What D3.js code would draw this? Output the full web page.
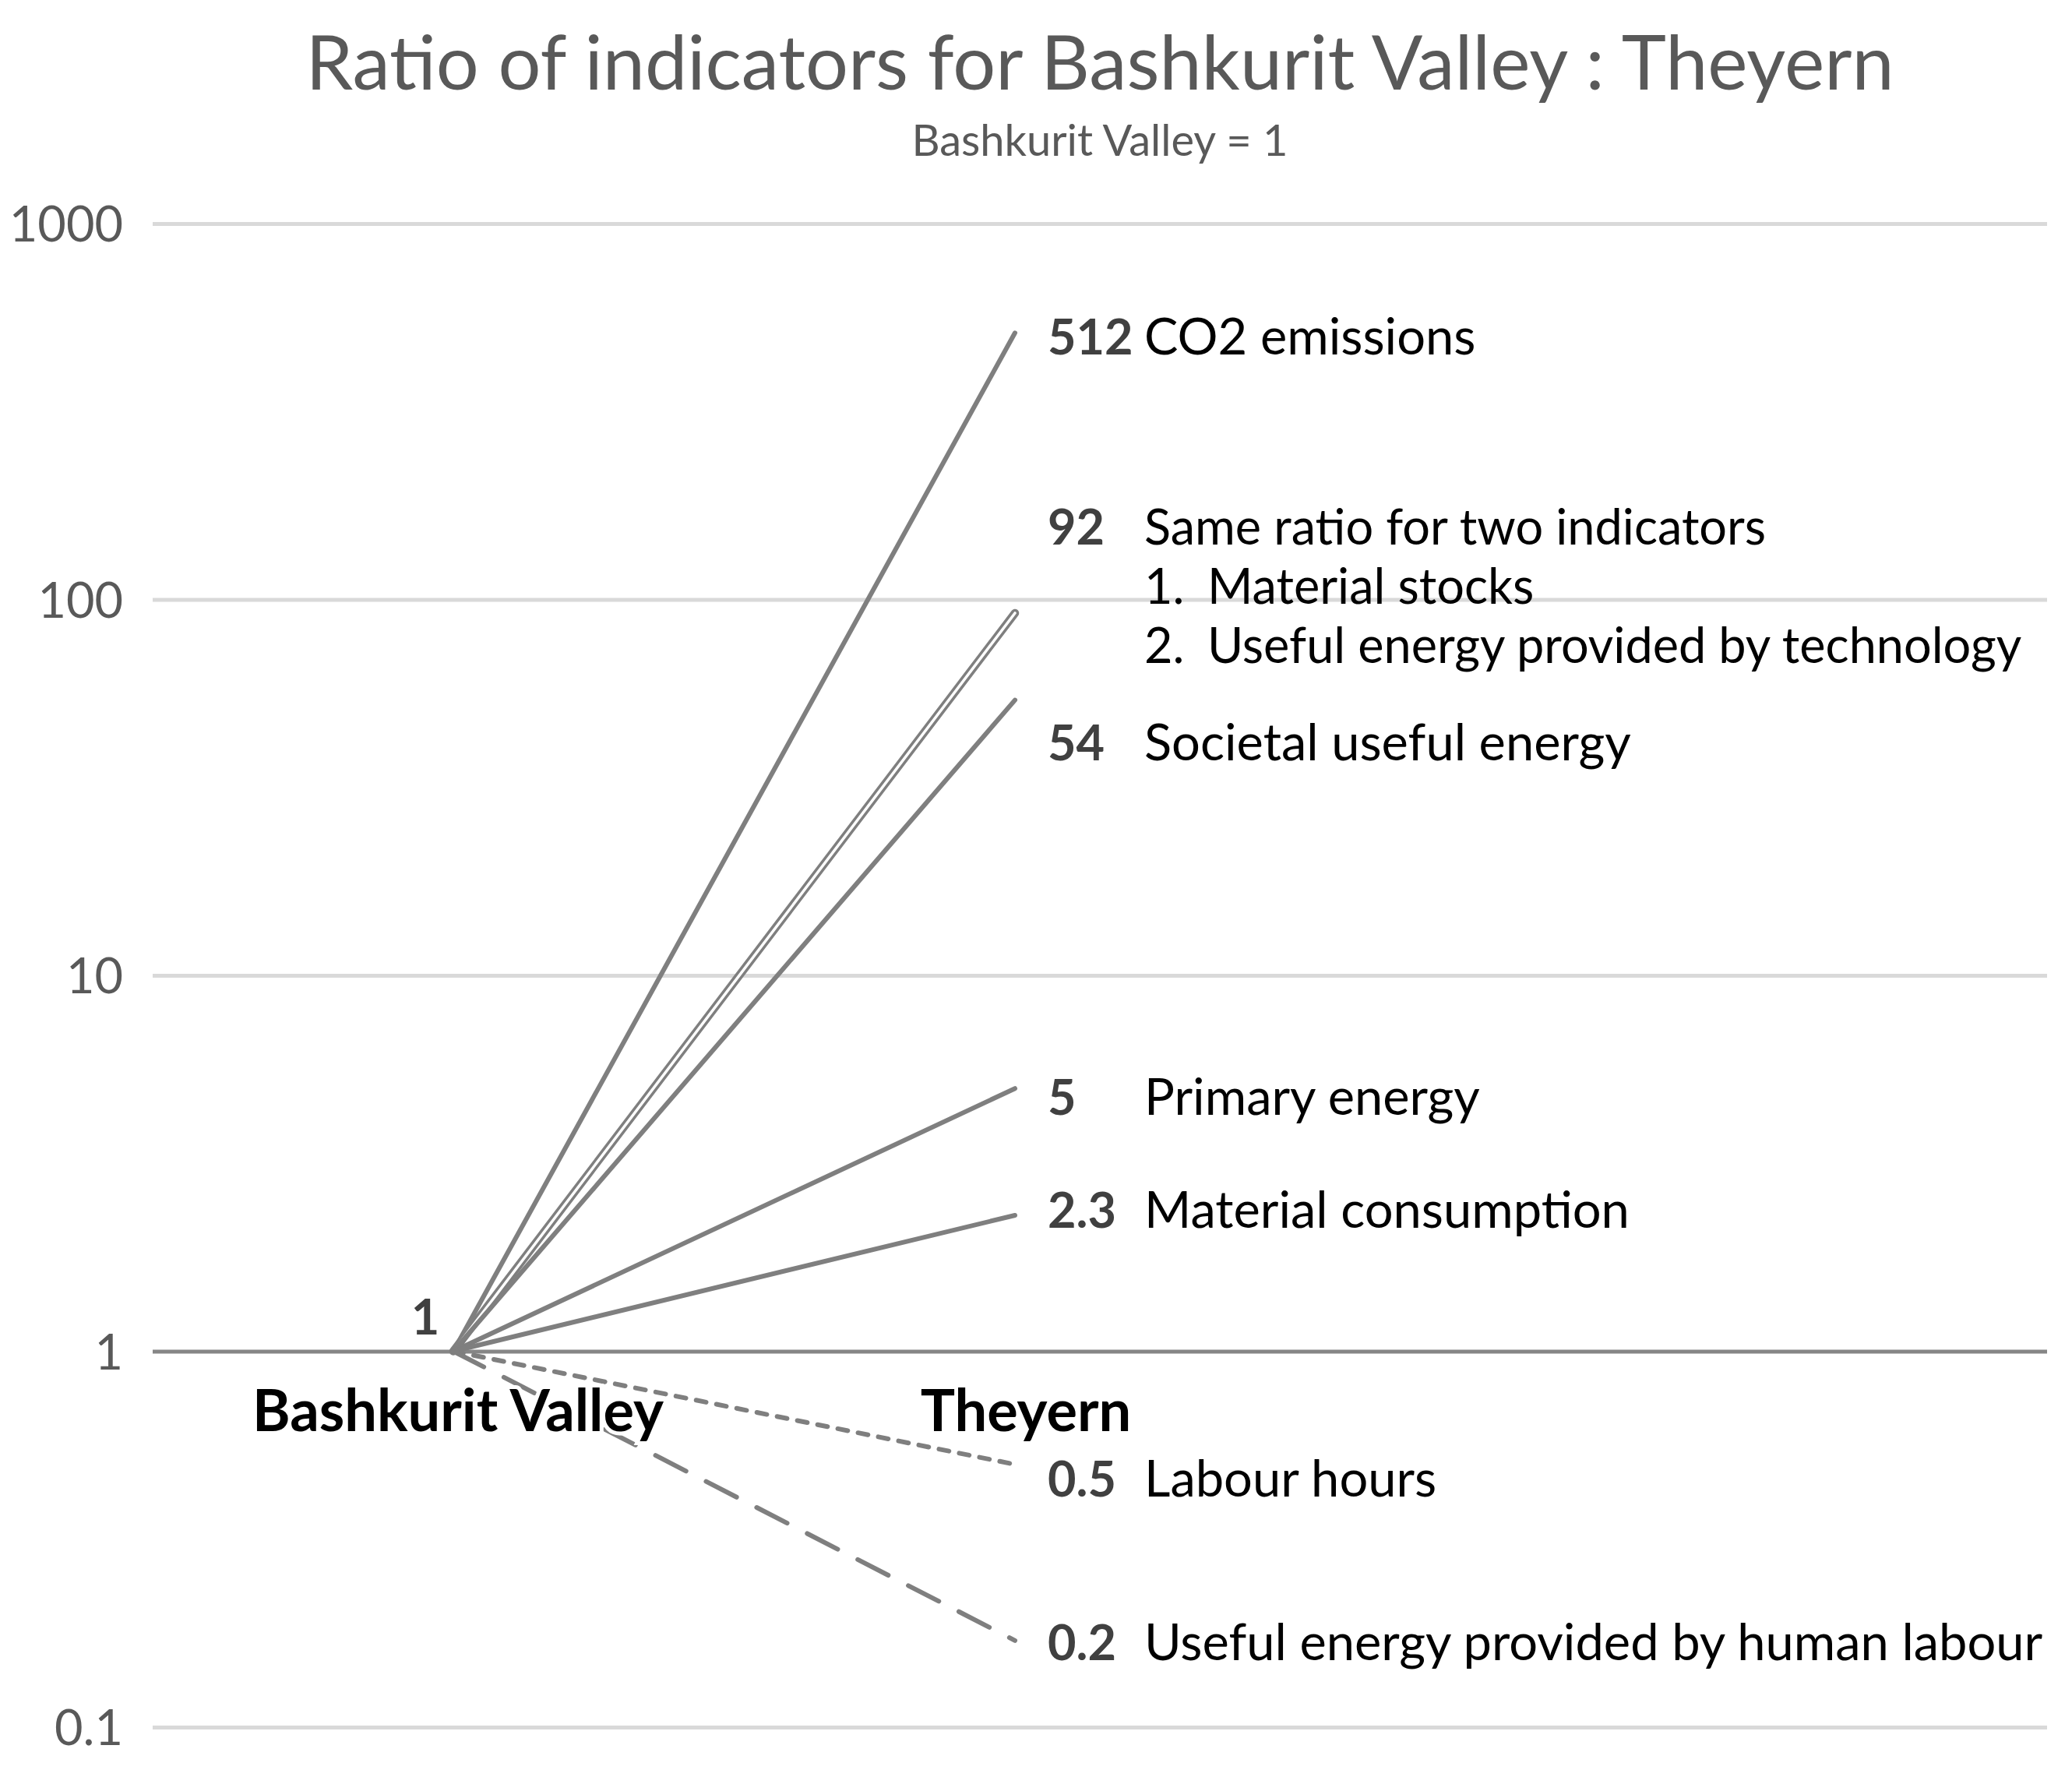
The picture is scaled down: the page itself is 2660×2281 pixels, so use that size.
<!DOCTYPE html>
<html>
<head>
<meta charset="utf-8">
<script src="https://cdn.jsdelivr.net/npm/d3@7"></script>
<style>
  body { margin: 0; background: #fff; }
  svg { display: block; font-family: Lato, "Open Sans", sans-serif; }
</style>
</head>
<body>
<div id="chart"></div>
<script>
// categories on the x axis
const categories = ["Bashkurit Valley", "Theyern"];

// indicator names and their Theyern ratio (Bashkurit Valley = 1)
const indicatorNames = [
    "CO2 emissions",
    "Same ratio for two indicators",
    "Societal useful energy",
    "Primary energy",
    "Material consumption",
    "Labour hours",
    "Useful energy provided by human labour"
];
const baseValues = [1, 1, 1, 1, 1, 1, 1];
const theyernValues = [512, 92, 54, 5, 2.3, 0.5, 0.17];
const valueLabels = ["512", "92", "54", "5", "2.3", "0.5", "0.2"];
// the two indicators that share the 92 ratio
const sharedItems = ["Material stocks", "Useful energy provided by technology"];

// y-axis tick values
const tickValues = [0.1, 1, 10, 100, 1000];

// line style per indicator
const lineStyles = ["solid", "double", "solid", "solid", "solid", "dot", "dash"];
// vertical nudge of each label from its line end (px)
const labelShift = [28, -88, 77, 34, 16, 41, 25];

const width = 2660, height = 2281;
const margin = { top: 287, right: 32, bottom: 64, left: 196 };
const grey = "#7f7f7f";

const svg = d3.select("#chart").append("svg")
    .attr("width", width)
    .attr("height", height);

// scales
const x = d3.scalePoint().domain(categories).range([582, 1303]);
const y = d3.scaleLog().domain([0.1, 1000]).range([height - margin.bottom, margin.top]);

// title + subtitle, centred on the plot area
const cx = (margin.left + width - margin.right) / 2;
svg.append("text")
    .attr("x", cx).attr("y", 115)
    .attr("text-anchor", "middle")
    .style("font-size", "97px")
    .style("fill", "#595959")
    .text("Ratio of indicators for Bashkurit Valley : Theyern");
svg.append("text")
    .attr("x", cx).attr("y", 200)
    .attr("text-anchor", "middle")
    .style("font-size", "56px")
    .style("fill", "#595959")
    .text("Bashkurit Valley = 1");

// gridlines and tick labels
const yAxis = svg.append("g")
    .attr("transform", `translate(${margin.left},0)`)
    .call(d3.axisLeft(y)
        .tickValues(tickValues)
        .tickFormat(d3.format("~g"))
        .tickSize(-(width - margin.left - margin.right))
        .tickPadding(38));
yAxis.select(".domain").remove();
yAxis.selectAll(".tick line")
    .attr("stroke", d => d === 1 ? "#868686" : "#d9d9d9")
    .attr("stroke-width", 5);
yAxis.selectAll(".tick text")
    .attr("dy", "0.36em")
    .style("font-family", "Lato, sans-serif")
    .style("font-size", "63px")
    .style("fill", "#595959");

// one record per indicator
const series = indicatorNames.map((name, i) => ({
    name: name,
    style: lineStyles[i],
    shift: labelShift[i],
    label: valueLabels[i],
    points: [
        { cat: categories[0], v: baseValues[i] },
        { cat: categories[1], v: theyernValues[i] }
    ]
}));

const line = d3.line()
    .x(d => x(d.cat))
    .y(d => y(d.v));

const lines = svg.append("g");
series.forEach(s => {
    const path = lines.append("path")
        .datum(s.points)
        .attr("d", line)
        .attr("fill", "none")
        .attr("stroke", grey)
        .attr("stroke-linecap", "round")
        .attr("stroke-width", s.style === "double" ? 10.5 : 6);
    if (s.style === "dot") path.attr("stroke-dasharray", "13,13.5");
    if (s.style === "dash") path.attr("stroke-dasharray", "44,29");
    if (s.style === "double") {
        // white core gives the outlined double-line look
        lines.append("path")
            .datum(s.points)
            .attr("d", line)
            .attr("fill", "none")
            .attr("stroke", "#fff")
            .attr("stroke-linecap", "round")
            .attr("stroke-width", 3.5);
    }
});

// labels at the Theyern end
const numX = x(categories[1]) + 42;
const nameX = x(categories[1]) + 166;
const lineGap = 76;

const labels = svg.append("g").style("font-size", "65px");
series.forEach(s => {
    const by = y(s.points[1].v) + s.shift;
    labels.append("text")
        .attr("x", numX).attr("y", by)
        .style("font-weight", "bold")
        .style("font-size", "63px")
        .style("fill", "#404040")
        .text(s.label);
    const t = labels.append("text")
        .attr("x", nameX).attr("y", by)
        .style("fill", "#000")
        .text(s.name);
    if (s.style === "double") {
        // numbered sub-list under the shared-ratio heading
        t.style("font-size", "63px");
        sharedItems.forEach((item, k) => {
            labels.append("text")
                .attr("x", nameX).attr("y", by + lineGap * (k + 1))
                .style("font-size", "63px")
                .style("fill", "#000")
                .text((k + 1) + ".");
            labels.append("text")
                .attr("x", nameX + 81).attr("y", by + lineGap * (k + 1))
                .style("font-size", "63px")
                .style("fill", "#000")
                .text(item);
        });
    }
});

// the "1" at the Bashkurit Valley start point
svg.append("text")
    .attr("x", x(categories[0]) - 36)
    .attr("y", y(baseValues[0]) - 22)
    .attr("text-anchor", "middle")
    .style("font-size", "63px")
    .style("font-weight", "bold")
    .style("fill", "#404040")
    .text("1");

// category labels (white halo hides the lines behind them)
svg.append("g").selectAll("text")
    .data(categories)
    .join("text")
    .attr("x", (d, i) => x(d) + (i === 0 ? 6 : 14))
    .attr("y", y(1) + 102)
    .attr("text-anchor", "middle")
    .style("font-size", "74px")
    .style("font-weight", "bold")
    .style("fill", "#000")
    .style("stroke", "#fff")
    .style("stroke-width", 10)
    .style("paint-order", "stroke")
    .text(d => d);
</script>
</body>
</html>
